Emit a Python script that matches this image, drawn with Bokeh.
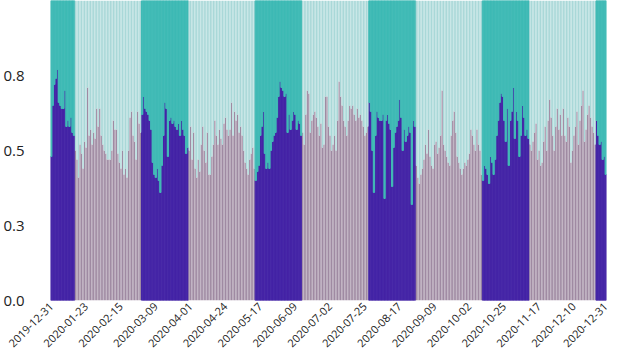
import numpy as np
import pandas as pd
from math import pi
from bokeh.plotting import figure
from bokeh.models import (ColumnDataSource, FixedTicker, DatetimeTickFormatter,
                          PrintfTickFormatter, Range1d)
from bokeh.embed import file_html
from bokeh.resources import INLINE

start_date = "2019-12-31"

# daily share of the lower series, period by period
share_p1 = [0.48, 0.65, 0.72, 0.74, 0.77, 0.66, 0.65, 0.64, 0.64, 0.70, 0.58, 0.60, 0.58, 0.61, 0.56, 0.55]
share_p2 = [0.50, 0.47, 0.41, 0.52, 0.49, 0.44, 0.53, 0.51, 0.71, 0.55, 0.57, 0.52, 0.56, 0.54, 0.64,
            0.58, 0.64, 0.55, 0.52, 0.50, 0.49, 0.47, 0.47, 0.47, 0.50, 0.60, 0.57, 0.57, 0.49, 0.46,
            0.44, 0.50, 0.42, 0.44, 0.41, 0.50, 0.61, 0.63, 0.55, 0.53, 0.47, 0.63, 0.59, 0.56]
share_p3 = [0.62, 0.68, 0.64, 0.63, 0.62, 0.60, 0.57, 0.46, 0.42, 0.41, 0.44, 0.40, 0.36, 0.45, 0.55,
            0.66, 0.64, 0.48, 0.60, 0.61, 0.59, 0.60, 0.58, 0.57, 0.59, 0.55, 0.60, 0.57, 0.55, 0.49, 0.51]
share_p4 = [0.50, 0.58, 0.47, 0.56, 0.44, 0.41, 0.47, 0.43, 0.52, 0.58, 0.50, 0.46, 0.56, 0.42, 0.42,
            0.48, 0.52, 0.60, 0.55, 0.52, 0.57, 0.54, 0.52, 0.59, 0.61, 0.57, 0.55, 0.57, 0.66, 0.55,
            0.63, 0.60, 0.62, 0.56, 0.58, 0.55, 0.50, 0.46, 0.44, 0.42, 0.47, 0.49, 0.51, 0.44]
share_p5 = [0.40, 0.43, 0.45, 0.55, 0.58, 0.63, 0.49, 0.44, 0.46, 0.44, 0.50, 0.53, 0.55, 0.56, 0.61,
            0.68, 0.73, 0.71, 0.70, 0.68, 0.69, 0.56, 0.62, 0.57, 0.60, 0.63, 0.62, 0.57, 0.60, 0.59, 0.55]
share_p6 = [0.56, 0.52, 0.62, 0.70, 0.69, 0.56, 0.60, 0.62, 0.63, 0.61, 0.58, 0.55, 0.59, 0.51, 0.52,
            0.68, 0.68, 0.58, 0.55, 0.50, 0.52, 0.55, 0.50, 0.60, 0.73, 0.68, 0.65, 0.60, 0.58, 0.55,
            0.60, 0.65, 0.64, 0.65, 0.62, 0.60, 0.64, 0.61, 0.62, 0.60, 0.58, 0.55, 0.56, 0.58]
share_p7 = [0.66, 0.63, 0.50, 0.36, 0.55, 0.63, 0.61, 0.60, 0.60, 0.62, 0.34, 0.60, 0.62, 0.59, 0.57,
            0.38, 0.51, 0.56, 0.58, 0.60, 0.67, 0.61, 0.50, 0.57, 0.53, 0.55, 0.58, 0.56, 0.32, 0.60, 0.58]
share_p8 = [0.45, 0.41, 0.39, 0.42, 0.44, 0.47, 0.52, 0.49, 0.57, 0.48, 0.45, 0.44, 0.52, 0.53, 0.49,
            0.51, 0.55, 0.70, 0.52, 0.50, 0.48, 0.46, 0.45, 0.55, 0.60, 0.63, 0.56, 0.48, 0.46, 0.44,
            0.42, 0.44, 0.46, 0.45, 0.47, 0.49, 0.57, 0.55, 0.52, 0.50, 0.57, 0.52, 0.50, 0.42]
share_p9 = [0.40, 0.45, 0.44, 0.42, 0.39, 0.48, 0.46, 0.42, 0.47, 0.55, 0.60, 0.66, 0.69, 0.68, 0.60,
            0.53, 0.64, 0.45, 0.60, 0.63, 0.71, 0.54, 0.63, 0.60, 0.48, 0.55, 0.65, 0.61, 0.55, 0.57, 0.54]
share_p10 = [0.52, 0.50, 0.53, 0.56, 0.59, 0.47, 0.50, 0.45, 0.46, 0.53, 0.58, 0.50, 0.60, 0.67, 0.61,
             0.55, 0.50, 0.58, 0.64, 0.57, 0.62, 0.55, 0.64, 0.55, 0.53, 0.61, 0.58, 0.46, 0.50, 0.55,
             0.58, 0.63, 0.52, 0.60, 0.65, 0.70, 0.53, 0.57, 0.62, 0.65, 0.61, 0.58, 0.56, 0.52]
share_p11 = [0.60, 0.55, 0.52, 0.53, 0.47, 0.48, 0.42]

total = 1.0

# highlighted (selected) date ranges
highlight_periods = [
    ("2019-12-31", "2020-01-15"),
    ("2020-02-29", "2020-03-30"),
    ("2020-05-14", "2020-06-13"),
    ("2020-07-28", "2020-08-27"),
    ("2020-10-11", "2020-11-10"),
    ("2020-12-25", "2020-12-31"),
]

tick_labels = ["2019-12-31", "2020-01-23", "2020-02-15", "2020-03-09", "2020-04-01",
               "2020-04-24", "2020-05-17", "2020-06-09", "2020-07-02", "2020-07-25",
               "2020-08-17", "2020-09-09", "2020-10-02", "2020-10-25", "2020-11-17",
               "2020-12-10", "2020-12-31"]
y_ticks = [0.0, 0.25, 0.5, 0.75]

share = (share_p1 + share_p2 + share_p3 + share_p4 + share_p5 + share_p6 +
         share_p7 + share_p8 + share_p9 + share_p10 + share_p11)

dates = pd.date_range(start_date, periods=len(share), freq="D")
sel = np.zeros(len(share), dtype=bool)
for a, b in highlight_periods:
    sel |= (dates >= pd.Timestamp(a)) & (dates <= pd.Timestamp(b))

DARK, TEAL = "#4424a6", "#3fbab5"
DIM_DARK, DIM_TEAL = "#9f8aa2", "#a9d8d8"

source = ColumnDataSource(dict(
    date=dates,
    low=share,
    total=[total] * len(share),
    c_low=[DARK if s else DIM_DARK for s in sel],
    c_top=[TEAL if s else DIM_TEAL for s in sel],
    la=[1.0 if s else 0.0 for s in sel],
))

half_day = pd.Timedelta(hours=12)
p = figure(width=640, height=353, x_axis_type="datetime",
           x_range=Range1d(dates[0] - half_day, dates[-1] + half_day),
           y_range=Range1d(0, 1.0),
           output_backend="svg", toolbar_location=None,
           min_border_left=50, min_border_right=34, min_border_top=0, min_border_bottom=0)

day_ms = 24 * 3600 * 1000
p.vbar(x="date", width=0.85 * day_ms, bottom=0, top="low", source=source,
       fill_color="c_low", line_color="c_low", line_alpha="la", line_width=1)
p.vbar(x="date", width=0.85 * day_ms, bottom="low", top="total", source=source,
       fill_color="c_top", line_color="c_top", line_alpha="la", line_width=1)

p.xaxis.ticker = FixedTicker(ticks=[pd.Timestamp(t).value / 1e6 for t in tick_labels])
fmt = "%Y-%m-%d"
p.xaxis.formatter = DatetimeTickFormatter(days=fmt, months=fmt, years=fmt, hours=fmt,
                                          minutes=fmt, seconds=fmt, minsec=fmt,
                                          hourmin=fmt, milliseconds=fmt, microseconds=fmt)
p.xaxis.major_label_orientation = pi / 4
p.yaxis.ticker = FixedTicker(ticks=y_ticks)
p.yaxis.formatter = PrintfTickFormatter(format="%.1f")

for ax in (p.xaxis, p.yaxis):
    ax.axis_line_color = None
    ax.major_tick_line_color = None
    ax.minor_tick_line_color = None
    ax.major_tick_out = 0
    ax.major_tick_in = 0
    ax.major_label_text_font = "Open Sans"
    ax.major_label_text_color = "#222222"
p.xaxis.major_label_text_font_size = "11px"
p.yaxis.major_label_text_font_size = "15px"
p.yaxis.major_label_standoff = 26
p.xaxis.major_label_standoff = 4

p.xgrid.visible = False
p.ygrid.visible = False
p.outline_line_color = None
p.background_fill_color = "white"
p.border_fill_color = "white"

open("out.html", "w").write(file_html(p, INLINE))
